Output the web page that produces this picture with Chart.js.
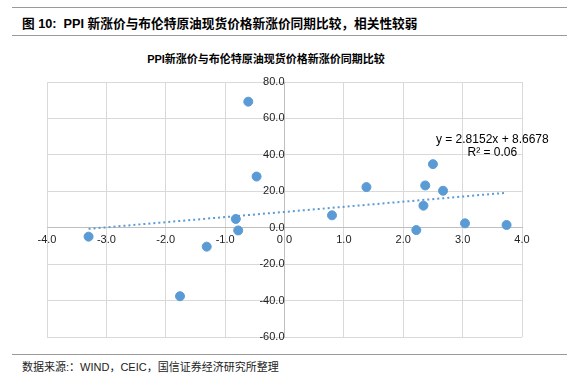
<!DOCTYPE html>
<html lang="zh">
<head>
<meta charset="UTF-8">
<title>PPI新涨价与布伦特原油现货价格新涨价同期比较</title>
<script src="https://cdn.jsdelivr.net/npm/chart.js"></script>
<style>
  html, body { margin: 0; padding: 0; background: #fff; }
  body { width: 567px; height: 390px; position: relative; overflow: hidden;
         font-family: "Liberation Sans", Arial, "Noto Sans CJK SC", sans-serif; color: #000; }
  .rule { position: absolute; left: 12px; right: 0; height: 0; border-top: 1px solid #9a9a9a; }
  #head { position: absolute; left: 22px; top: 13px; font-size: 12.7px; font-weight: bold; white-space: nowrap; }
  #subtitle { position: absolute; left: 0; width: 532px; top: 50px; text-align: center;
              font-size: 11px; font-weight: bold; white-space: nowrap; }
  #foot { position: absolute; left: 22px; top: 358px; font-size: 11px; white-space: nowrap; color: #222; }
  #wrap { position: absolute; left: 0; top: 0; width: 567px; height: 390px; }
</style>
</head>
<body>
<div class="rule" style="top:7px"></div>
<div id="head">图 10:&nbsp; PPI 新涨价与布伦特原油现货价格新涨价同期比较，相关性较弱</div>
<div class="rule" style="top:35px"></div>
<div id="subtitle">PPI新涨价与布伦特原油现货价格新涨价同期比较</div>
<div class="rule" style="top:354px"></div>
<div id="foot">数据来源:：WIND，CEIC，国信证券经济研究所整理</div>
<div id="wrap"><canvas id="chart" width="567" height="390"></canvas></div>

<script>
// brent new-price change (x) vs PPI new-price change (y)
const brentX = [-3.30, -1.76, -1.31, -0.82, -0.78, -0.61, -0.47, 0.80, 1.38, 2.22, 2.34, 2.37, 2.50, 2.67, 3.04, 3.74];
const ppiY   = [-4.9, -37.6, -10.4, 4.8, -1.5, 69.2, 28.1, 6.8, 22.3, -1.3, 12.1, 23.2, 34.9, 20.3, 2.4, 1.5];

// linear trend as printed on the chart
const slope = 2.8152;
const intercept = 8.6678;
const rSquared = '0.06';
const trendX = [-3.30, 3.74];

const blue = '#5b9bd5';

const points = brentX.map((x, i) => ({ x: x, y: ppiY[i] }));
const trend = trendX.map(x => ({ x: x, y: slope * x + intercept }));

const equationLabel = {
    id: 'equationLabel',
    afterDatasetsDraw(chart) {
        const ctx = chart.ctx;
        const xs = chart.scales.x, ys = chart.scales.y;
        ctx.save();
        ctx.fillStyle = '#000';
        ctx.font = '12px "Liberation Sans", Arial, sans-serif';
        ctx.textAlign = 'center';
        ctx.textBaseline = 'middle';
        const cx = xs.getPixelForValue(3.5);
        ctx.fillText('y = ' + slope + 'x + ' + intercept, cx, ys.getPixelForValue(48.3));
        ctx.fillText('R² = ' + rSquared, cx, ys.getPixelForValue(41.2));
        ctx.restore();
    }
};

new Chart(document.getElementById('chart'), {
    type: 'scatter',
    data: {
        datasets: [
            {
                label: 'points',
                data: points,
                backgroundColor: blue,
                borderColor: blue,
                pointRadius: 4.5,
                pointHoverRadius: 4.5
            },
            {
                type: 'line',
                label: 'trend',
                data: trend,
                borderColor: blue,
                borderWidth: 2,
                borderDash: [2, 3],
                pointRadius: 0,
                fill: false
            }
        ]
    },
    options: {
        responsive: false,
        animation: false,
        layout: { padding: { left: 47, right: 45, top: 82, bottom: 53 } },
        plugins: { legend: { display: false }, tooltip: { enabled: false }, title: { display: false } },
        scales: {
            x: {
                type: 'linear',
                position: { y: 0 },
                min: -4, max: 4,
                ticks: {
                    stepSize: 1,
                    color: '#222',
                    font: { size: 11, family: '"Liberation Sans", Arial, sans-serif' },
                    padding: 6,
                    maxRotation: 0,
                    callback: v => v.toFixed(1)
                },
                grid: { color: '#d9d9d9', drawTicks: false },
                border: { color: '#bfbfbf' }
            },
            y: {
                type: 'linear',
                position: { x: 0 },
                min: -60, max: 80,
                ticks: {
                    stepSize: 20,
                    color: '#222',
                    font: { size: 11, family: '"Liberation Sans", Arial, sans-serif' },
                    padding: 9,
                    callback: v => v.toFixed(1)
                },
                grid: { color: '#d9d9d9', drawTicks: false },
                border: { color: '#bfbfbf' }
            }
        }
    },
    plugins: [equationLabel]
});
</script>
</body>
</html>
